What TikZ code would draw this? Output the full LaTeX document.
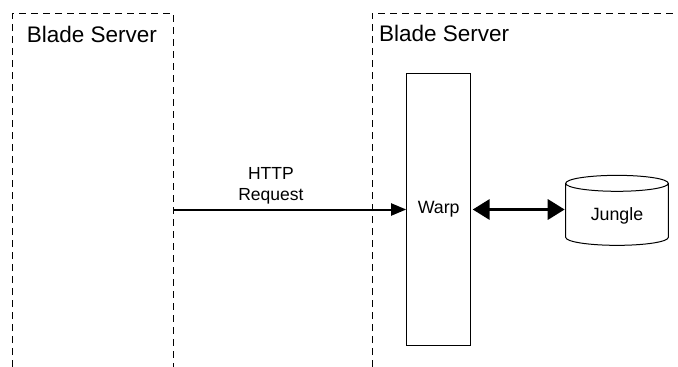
\documentclass[tikz,border=0pt]{standalone}
\usepackage{fontspec}
\setmainfont{Liberation Sans}
\usetikzlibrary{arrows.meta,positioning,shapes.geometric}

\begin{document}
\begin{tikzpicture}[x=1pt,y=-1pt,
    server/.style={draw,line width=1pt,dash pattern=on 7pt off 5pt},
    title/.style={anchor=base west,inner sep=0pt,font=\fontsize{22.5}{26}\selectfont},
    comp/.style={draw,line width=1pt,font=\fontsize{17.8}{21}\selectfont},
    req/.style={-{Triangle[length=15pt,width=12pt]},line width=2pt},
    dbl/.style={{Triangle[length=17pt,width=20pt]}-{Triangle[length=17pt,width=20pt]},line width=3.5pt}]
	\useasboundingbox (0,0) rectangle (678,367);
	% servers
	\draw[server] (12.7,367) -- (12.7,13.3) -- (173,13.3) -- (173,367);
	\draw[server] (372,367) -- (372,13.3) -- (690,13.3);
	\node[title] (s_a) at (26.7,42) {Blade Server};
	\node[title] (s_b) at (379,41.7) {Blade Server};

	\coordinate (c_0) at (173,209.5);
	\node[comp, minimum width=64pt, minimum height=272.4pt] (warp) at (438.7,209.5) {Warp};
	\node[comp, shape=cylinder, shape border rotate=90, aspect=0.27,
	      minimum width=102.6pt, minimum height=70pt] (jungle) at (617,216) {Jungle};
	\coordinate (c_1) at (warp.east -| jungle.west);

	\path
	(c_0) edge[req] node[above=1pt, pos=0.42, align=center, font=\fontsize{17.5}{21}\selectfont] {HTTP\\Request} (warp)
	(warp.east) edge[dbl, shorten <=1.5pt, shorten >=0.5pt] (c_1);
\end{tikzpicture}
\end{document}
